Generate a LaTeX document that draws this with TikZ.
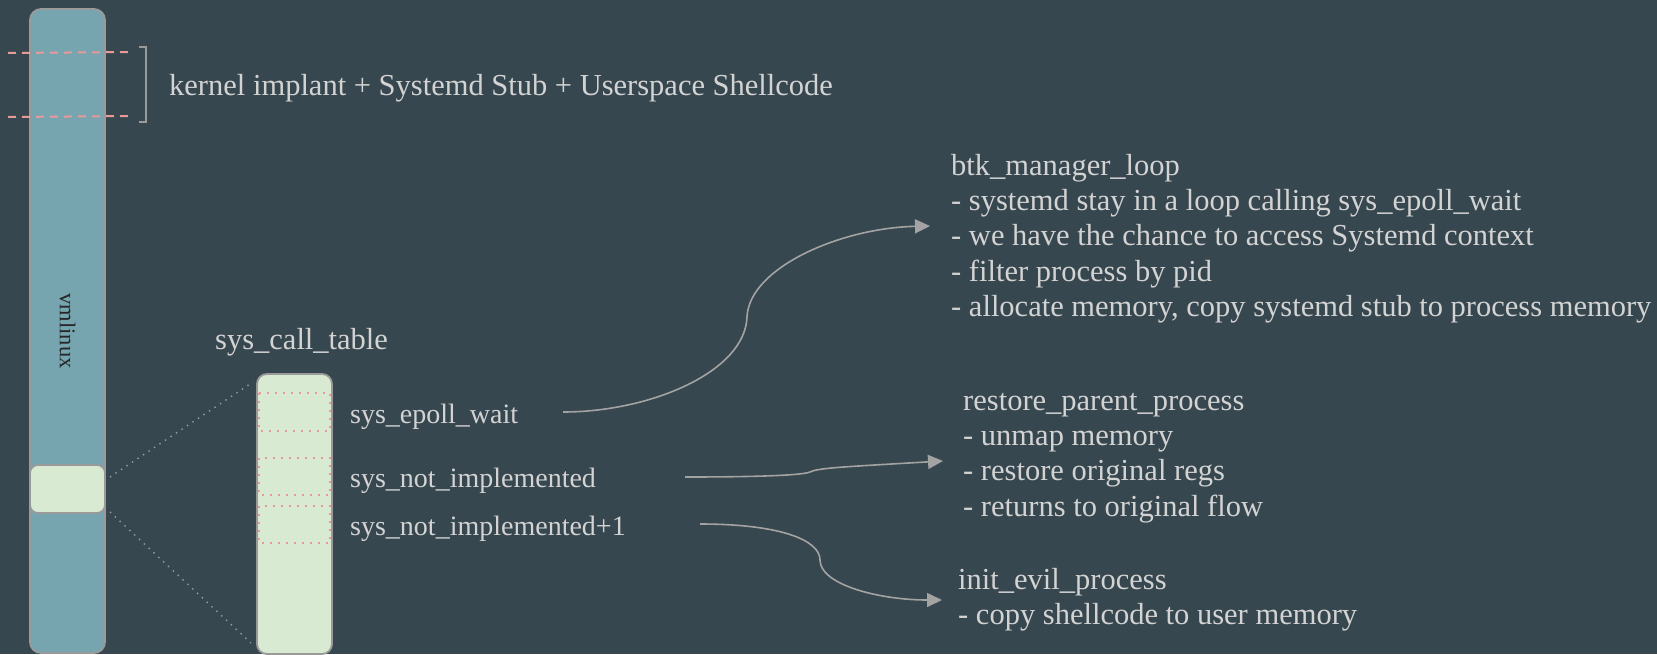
\documentclass[tikz,border=0pt]{standalone}
\usepackage{fontspec}
\setmainfont{Liberation Serif}
\usetikzlibrary{arrows.meta}
\definecolor{bg}{HTML}{37474F}
\definecolor{barblue}{HTML}{76A5AF}
\definecolor{lightgreen}{HTML}{D9EAD3}
\definecolor{edge}{HTML}{9A9A9A}
\definecolor{pinkline}{HTML}{EA9999}
\definecolor{fg}{HTML}{D3D3D3}
\definecolor{arrowgray}{HTML}{A3A3A3}
\tikzset{
  column/.style={draw=edge, line width=1.8pt, rounded corners=11pt, inner sep=0pt},
  label/.style={text=fg, font=\fontsize{30.5}{35.4}\selectfont, inner sep=0pt, anchor=base west},
  entry/.style={label, font=\fontsize{28}{33}\selectfont},
  flow/.style={draw=arrowgray, line width=1.6pt, -{Triangle[length=15pt,width=14pt]}},
  slotline/.style={draw=pinkline, line width=1.6pt, dash pattern=on 1.6pt off 6.4pt},
  zoomline/.style={draw=edge, line width=1.4pt, dash pattern=on 1.4pt off 5.2pt},
  marker/.style={draw=pinkline, line width=2pt, dash pattern=on 8pt off 6pt},
}
\begin{document}
\begin{tikzpicture}[x=1pt,y=-1pt]
\useasboundingbox[fill=bg] (0,0) rectangle (1657,654);

% kernel image column
\node[column, fill=barblue, minimum width=75pt, minimum height=644pt] (vmlinux) at (67.5,331) {};
\node[rotate=-90, text=black!85, font=\fontsize{22.5}{27}\selectfont, inner sep=0pt] (vmlabel) at (vmlinux.center) {vmlinux};
\node[column, fill=lightgreen, rounded corners=8pt, minimum width=75pt, minimum height=48pt] (hl) at (67.5,489) {};

% implant region markers and bracket
\coordinate (m1a) at (8,53);  \coordinate (m1b) at (130,52);
\coordinate (m2a) at (8,117); \coordinate (m2b) at (130,116);
\draw[marker] (m1a) -- (m1b);
\draw[marker] (m2a) -- (m2b);
\draw[draw=edge, line width=1.5pt] (139,47) -- (146,47) -- (146,122) -- (139,122);
\node[label] (implant) at (169,95) {kernel implant + Systemd Stub + Userspace Shellcode};

% syscall table
\node[label] (sctlabel) at (215,349) {sys\_call\_table};
\node[column, fill=lightgreen, rounded corners=10pt, minimum width=75pt, minimum height=280pt] (table) at (294.5,514) {};
\draw[slotline] (259,393) rectangle (330,431);
\draw[slotline] (259,458) rectangle (330,495);
\draw[slotline] (259,506) rectangle (330,543);

% zoom guides from the highlighted region to the table
\coordinate (z1a) at (110,477); \coordinate (z1b) at (253,382);
\coordinate (z2a) at (110,512); \coordinate (z2b) at (251,643);
\draw[zoomline] (z1a) -- (z1b);
\draw[zoomline] (z2a) -- (z2b);

% table entries
\node[entry] (epoll) at (350,423) {sys\_epoll\_wait};
\node[entry] (notimpl) at (350,487) {sys\_not\_implemented};
\node[entry] (notimpl1) at (350,535) {sys\_not\_implemented+1};

% handler descriptions
\node[label] (btk) at (951,175) {\begin{tabular}[t]{@{}l@{}}
btk\_manager\_loop\\
- systemd stay in a loop calling sys\_epoll\_wait\\
- we have the chance to access Systemd context\\
- filter process by pid\\
- allocate memory, copy systemd stub to process memory
\end{tabular}};
\node[label] (restore) at (963,410) {\begin{tabular}[t]{@{}l@{}}
restore\_parent\_process\\
- unmap memory\\
- restore original regs\\
- returns to original flow
\end{tabular}};
\node[label] (evil) at (958,589) {\begin{tabular}[t]{@{}l@{}}
init\_evil\_process\\
- copy shellcode to user memory
\end{tabular}};

% hooks from the table entries to their handlers
\coordinate (s1) at (563,412);
\coordinate (t1) at (930,226);
\coordinate (s2) at (685,477);
\coordinate (t2) at (943,461);
\coordinate (s3) at (700,524);
\coordinate (t3) at (942,600);
\draw[flow] (s1) .. controls (650,412) and (745,372) .. (747,317)
                 .. controls (749,268) and (840,228) .. (t1);
\draw[flow] (s2) .. controls (740,477) and (800,476) .. (810,472)
                 .. controls (818,468) and (840,467) .. (t2);
\draw[flow] (s3) .. controls (780,524) and (820,540) .. (820,560)
                 .. controls (820,585) and (880,600) .. (t3);
\end{tikzpicture}
\end{document}
